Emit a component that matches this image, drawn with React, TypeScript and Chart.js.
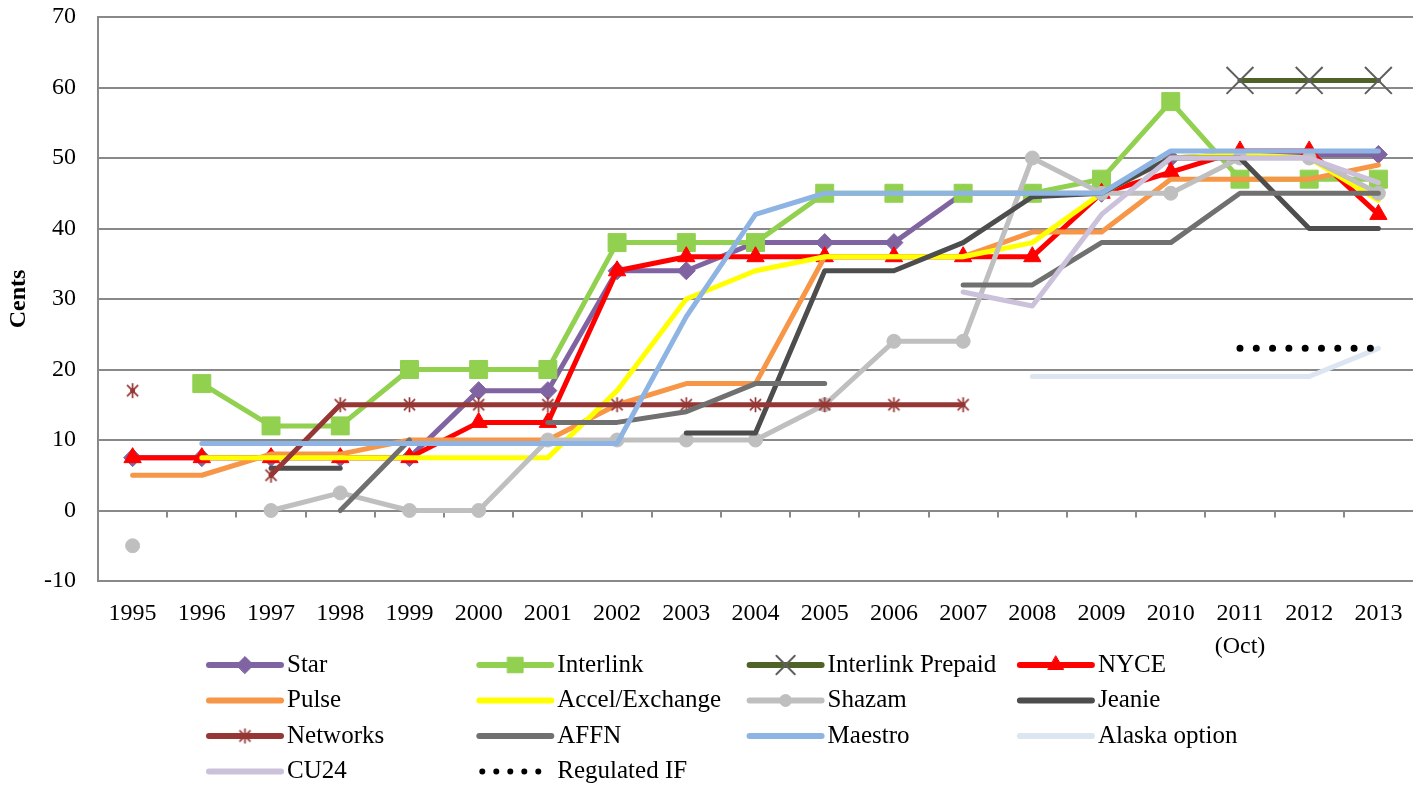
import React, { useEffect, useRef } from 'react';
import { Chart, registerables } from 'chart.js';
import { drawPoint } from 'chart.js/helpers';

Chart.register(...registerables);

// Years on the category axis; 2011 is an October figure
const years: (string | string[])[] = [
  '1995', '1996', '1997', '1998', '1999', '2000', '2001', '2002', '2003', '2004',
  '2005', '2006', '2007', '2008', '2009', '2010', ['2011', '(Oct)'], '2012', '2013',
];

// Interchange fees per network, in cents (null = no value that year)
const star = [7.5, 7.5, 7.5, 7.5, 7.5, 17, 17, 34, 34, 38, 38, 38, 45, 45, 45, 50, 50.5, 50.5, 50.5];
const interlink = [null, 18, 12, 12, 20, 20, 20, 38, 38, 38, 45, 45, 45, 45, 47, 58, 47, 47, 47];
const interlinkPrepaid = [null, null, null, null, null, null, null, null, null, null, null, null, null, null, null, null, 61, 61, 61];
const nyce = [7.5, 7.5, 7.5, 7.5, 7.5, 12.5, 12.5, 34, 36, 36, 36, 36, 36, 36, 45, 48, 51, 51, 42];
const pulse = [5, 5, 8, 8, 10, 10, 10, 15, 18, 18, 36, 36, 36, 39.5, 39.5, 47, 47, 47, 49];
const accelExchange = [null, 7.5, 7.5, 7.5, 7.5, 7.5, 7.5, 17, 30, 34, 36, 36, 36, 38, 45, 50, 50.5, 50, 44];
const shazam = [-5, null, 0, 2.5, 0, 0, 10, 10, 10, 10, 15, 24, 24, 50, 45, 45, 50, 50, 45];
const jeanie = [null, null, 6, 6, null, null, null, null, 11, 11, 34, 34, 38, 44.5, 45, 50, 50, 40, 40];
const networks = [17, null, 5, 15, 15, 15, 15, 15, 15, 15, 15, 15, 15, null, null, null, null, null, null];
const affn = [null, null, null, 0, 10, null, 12.5, 12.5, 14, 18, 18, null, 32, 32, 38, 38, 45, 45, 45];
const maestro = [null, 9.5, 9.5, 9.5, 9.5, 9.5, 9.5, 9.5, 27.5, 42, 45, 45, 45, 45, 45, 51, 51, 51, 51];
const alaskaOption = [null, null, null, null, null, null, null, null, null, null, null, null, null, 19, 19, 19, 19, 19, 23];
const cu24 = [null, null, null, null, null, null, null, null, null, null, null, null, 31, 29, 42, 50, 50, 50, 46.5];
const regulatedIF = [null, null, null, null, null, null, null, null, null, null, null, null, null, null, null, null, 23, 23, 23];

const yTicks = { min: -10, max: 70, step: 10 };

const W = 1424;
const H = 802;
const PLOT_TOP = 17;
const PLOT_LEFT = 98;
const PLOT_RIGHT = 1413;
const PLOT_BOTTOM = 581;
const FONT = '"Liberation Serif", "Times New Roman", serif';

// Asterisk marker: vertical stroke plus two diagonals
function asteriskMarker(color: string, size: number): HTMLCanvasElement {
  const c = document.createElement('canvas');
  c.width = size;
  c.height = size;
  const g = c.getContext('2d')!;
  const m = size / 2;
  const r = size / 2 - 1;
  const d = r * 0.74;
  g.strokeStyle = color;
  g.lineWidth = 1.7;
  g.beginPath();
  g.moveTo(m, m - r);
  g.lineTo(m, m + r);
  g.moveTo(m - d, m - d);
  g.lineTo(m + d, m + d);
  g.moveTo(m + d, m - d);
  g.lineTo(m - d, m + d);
  g.stroke();
  return c;
}

type SeriesDef = {
  label: string;
  data: (number | null)[];
  color: string;
  point?: any;
  radius?: number;
  legendRadius?: number;
  pointColor?: string;
  pointBorderWidth?: number;
  dotted?: boolean;
};

function buildSeries(): SeriesDef[] {
  return [
    { label: 'Star', data: star, color: '#8064A2', point: 'rectRot', radius: 9, legendRadius: 8.5 },
    { label: 'Interlink', data: interlink, color: '#92D050', point: 'rect', radius: 12.7, legendRadius: 11 },
    { label: 'Interlink Prepaid', data: interlinkPrepaid, color: '#4F6228', point: 'crossRot', radius: 19, legendRadius: 13, pointColor: '#5F5F5F', pointBorderWidth: 2 },
    { label: 'NYCE', data: nyce, color: '#FF0000', point: 'triangle', radius: 10, legendRadius: 9 },
    { label: 'Pulse', data: pulse, color: '#F79646' },
    { label: 'Accel/Exchange', data: accelExchange, color: '#FFFF00' },
    { label: 'Shazam', data: shazam, color: '#BFBFBF', point: 'circle', radius: 7, legendRadius: 6 },
    { label: 'Jeanie', data: jeanie, color: '#4D4D4D' },
    { label: 'Networks', data: networks, color: '#953735', point: asteriskMarker('#953735', 17), radius: 8, legendRadius: 7 },
    { label: 'AFFN', data: affn, color: '#707070' },
    { label: 'Maestro', data: maestro, color: '#8DB4E2' },
    { label: 'Alaska option', data: alaskaOption, color: '#DCE6F2' },
    { label: 'CU24', data: cu24, color: '#CCC1DA' },
    { label: 'Regulated IF', data: regulatedIF, color: '#000000', dotted: true },
  ];
}

export default function App() {
  const canvasRef = useRef<HTMLCanvasElement | null>(null);

  useEffect(() => {
    const canvas = canvasRef.current;
    if (!canvas) return;
    const series = buildSeries();
    const n = series.length;

    const datasets = series.map((s, i) => ({
      label: s.label,
      data: s.data,
      borderColor: s.color,
      backgroundColor: s.color,
      borderWidth: s.dotted ? 7 : 5,
      borderCapStyle: 'round' as const,
      borderJoinStyle: 'round' as const,
      borderDash: s.dotted ? [0, 16.3] : [],
      pointStyle: s.point ?? 'circle',
      pointRadius: s.point ? s.radius : 0,
      pointBackgroundColor: s.pointColor ?? s.color,
      pointBorderColor: s.pointColor ?? s.color,
      pointBorderWidth: s.pointBorderWidth ?? 1,
      tension: 0,
      spanGaps: false,
      order: n - i,
    }));

    // Short downward tick marks along the zero line, between categories
    const zeroTicks = {
      id: 'zeroTicks',
      beforeDatasetsDraw(chart: any) {
        const { ctx, chartArea, scales } = chart;
        const y0 = scales.y.getPixelForValue(0);
        const count = years.length;
        const step = (chartArea.right - chartArea.left) / count;
        ctx.save();
        ctx.strokeStyle = '#898989';
        ctx.lineWidth = 2;
        ctx.beginPath();
        for (let k = 1; k < count; k++) {
          const x = Math.round(chartArea.left + k * step);
          ctx.moveTo(x, y0);
          ctx.lineTo(x, y0 + 7);
        }
        ctx.stroke();
        ctx.restore();
      },
    };

    // Column-aligned legend under the axis
    const columnLegend = {
      id: 'columnLegend',
      afterDraw(chart: any) {
        const ctx = chart.ctx;
        const x0 = 209;
        const dx = 270.3;
        const y0 = 665;
        const dy = 35.5;
        ctx.save();
        series.forEach((s, i) => {
          const x = x0 + (i % 4) * dx;
          const y = y0 + Math.floor(i / 4) * dy;
          ctx.lineCap = 'round';
          ctx.strokeStyle = s.color;
          ctx.lineWidth = 6;
          ctx.beginPath();
          if (s.dotted) {
            ctx.setLineDash([0, 14]);
            ctx.moveTo(x + 3, y);
            ctx.lineTo(x + 60, y);
          } else {
            ctx.setLineDash([]);
            ctx.moveTo(x, y);
            ctx.lineTo(x + 72, y);
          }
          ctx.stroke();
          ctx.setLineDash([]);
          if (s.point) {
            ctx.fillStyle = s.pointColor ?? s.color;
            ctx.strokeStyle = s.pointColor ?? s.color;
            ctx.lineWidth = s.pointBorderWidth ?? 1;
            drawPoint(ctx, { pointStyle: s.point, radius: s.legendRadius, borderWidth: s.pointBorderWidth ?? 1, rotation: 0 } as any, x + 36, y);
          }
          ctx.fillStyle = '#000';
          ctx.font = `25px ${FONT}`;
          ctx.textBaseline = 'middle';
          ctx.textAlign = 'left';
          ctx.fillText(s.label, x + 78, y);
        });
        ctx.restore();
      },
    };

    const chart = new Chart(canvas, {
      type: 'line',
      data: { labels: years as any, datasets: datasets as any },
      plugins: [zeroTicks, columnLegend],
      options: {
        responsive: false,
        animation: false,
        events: [],
        layout: { autoPadding: false, padding: { top: PLOT_TOP, right: W - PLOT_RIGHT, left: 0, bottom: 0 } },
        plugins: { legend: { display: false }, tooltip: { enabled: false } },
        scales: {
          x: {
            type: 'category',
            offset: true,
            grid: { display: false },
            border: { display: false },
            ticks: {
              color: '#000',
              font: { family: FONT, size: 24, lineHeight: 1.375 },
              padding: 8.5,
              maxRotation: 0,
              autoSkip: false,
            },
            afterFit: (s: any) => {
              s.height = H - PLOT_BOTTOM;
              s.paddingLeft = 0;
              s.paddingRight = 0;
            },
          },
          y: {
            min: yTicks.min,
            max: yTicks.max,
            ticks: { stepSize: yTicks.step, color: '#000', font: { family: FONT, size: 24 }, padding: 22 },
            grid: { color: '#898989', lineWidth: 2, drawTicks: false },
            border: { color: '#898989', width: 2 },
            title: { display: true, text: 'Cents', color: '#000', font: { family: FONT, size: 24, weight: 'bold' } },
            afterFit: (s: any) => {
              s.width = PLOT_LEFT;
              s.paddingTop = 0;
              s.paddingBottom = 0;
            },
          },
        },
      } as any,
    });

    return () => chart.destroy();
  }, []);

  return (
    <div style={{ position: 'fixed', left: 0, top: 0, width: W, height: H, background: '#fff' }}>
      <canvas ref={canvasRef} width={W} height={H} style={{ display: 'block' }} />
    </div>
  );
}
